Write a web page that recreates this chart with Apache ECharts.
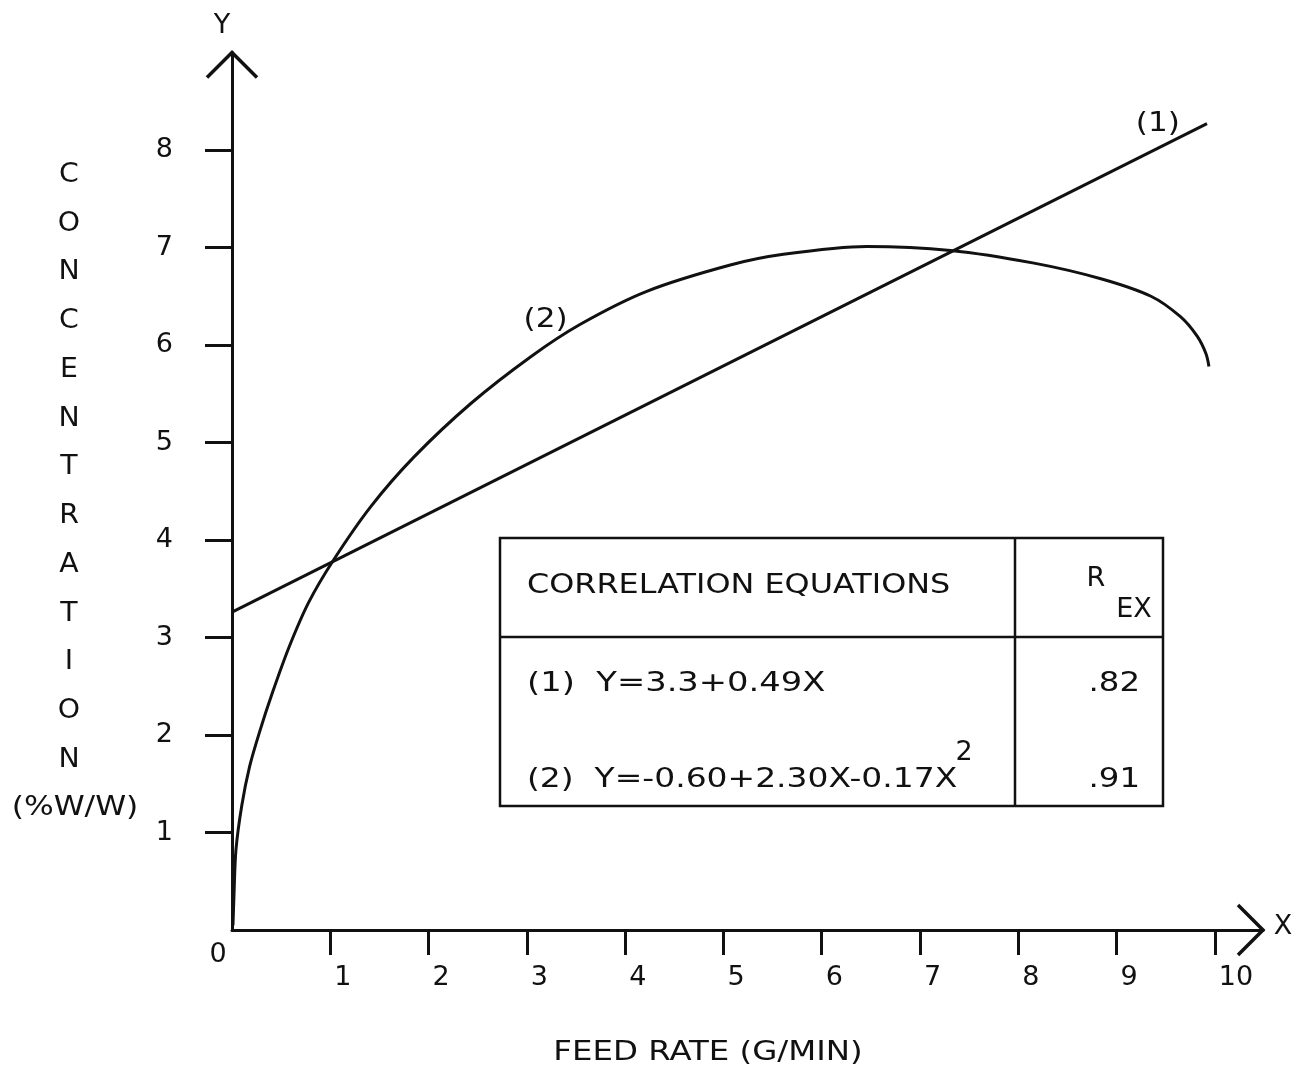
<!DOCTYPE html>
<html>
<head>
<meta charset="utf-8">
<script src="https://cdn.jsdelivr.net/npm/echarts@6/dist/echarts.min.js"></script>
<style>
  html, body { margin: 0; padding: 0; background: #ffffff; }
  #chart { width: 1293px; height: 1073px; }
</style>
</head>
<body>
<div id="chart"></div>
<script>
// Tick values on each axis
const xTickValues = [1, 2, 3, 4, 5, 6, 7, 8, 9, 10];
const yTickValues = [1, 2, 3, 4, 5, 6, 7, 8];

// Correlation (1): straight line, feed rate vs concentration
const fitLinear = [[0, 3.26], [9.92, 8.27]];

// Correlation (2): curved fit
const fitCurve = [
  [0.01, 0.05], [0.02, 0.35], [0.04, 0.82], [0.10, 1.28], [0.18, 1.68],
  [0.28, 2.03], [0.41, 2.43], [0.58, 2.90], [0.78, 3.36], [1.03, 3.79],
  [1.41, 4.34], [1.85, 4.85], [2.43, 5.40], [3.04, 5.88], [3.54, 6.21],
  [4.22, 6.55], [5.07, 6.82], [5.61, 6.93], [6.46, 7.01], [7.31, 6.97],
  [8.16, 6.84], [8.84, 6.68], [9.35, 6.50], [9.65, 6.29], [9.82, 6.09],
  [9.91, 5.91], [9.94, 5.78]
];

// Inset table contents
const tableHeading = 'CORRELATION EQUATIONS';
const rSymbol = 'R';
const rSubscript = 'EX';
const equationTexts = ['(1)  Y=3.3+0.49X', '(2)  Y=-0.60+2.30X-0.17X'];
const equationSuperscript = '2';
const rValues = ['.82', '.91'];

// Curve tags placed in data coordinates
const seriesTags = [
  { text: '(1)', at: [9.42, 8.27] },
  { text: '(2)', at: [3.19, 6.26] }
];

const INK = '#111111';
const FONT = '"DejaVu Sans", sans-serif';
const FS = 27;

// open chevron used as axis arrow head (points up before rotation)
const chevron = 'path://M0,26.23L26.24,0L52.48,26.23L50,28.71L26.24,4.94L2.48,28.71Z';

const chart = echarts.init(document.getElementById('chart'), null, { renderer: 'canvas' });

// plotter-style lettering: glyphs stretched sideways about the anchor point
function txt(text, x, y, align, vAlign, stretch, extra) {
  return {
    type: 'text', silent: true, x: x, y: y, scaleX: stretch || 1.2, z: 20,
    style: Object.assign({
      text: text, x: 0, y: 0,
      font: FS + 'px ' + FONT,
      fill: INK, align: align || 'left', verticalAlign: vAlign || 'middle'
    }, extra || {})
  };
}

const option = {
  backgroundColor: '#ffffff',
  animation: false,
  grid: { left: 232, right: 30, top: 52.5, bottom: 143, outerBoundsMode: 'none', containLabel: false },
  xAxis: {
    type: 'value', min: 0, max: 10.49,
    splitLine: { show: false },
    axisLine: {
      show: true, onZero: false,
      lineStyle: { color: INK, width: 3 },
      symbol: ['none', chevron], symbolSize: [52.48, 28.71], symbolOffset: [0, -11.88]
    },
    axisTick: { show: true, inside: false, length: 25, lineStyle: { color: INK, width: 3 }, customValues: xTickValues },
    axisLabel: {
      show: true, customValues: xTickValues, margin: 34,
      color: INK, fontFamily: FONT, fontSize: FS, align: 'left', verticalAlign: 'top',
      padding: [0, 0, 0, 4]
    }
  },
  yAxis: {
    type: 'value', min: 0, max: 9,
    splitLine: { show: false },
    axisLine: {
      show: true, onZero: false,
      lineStyle: { color: INK, width: 3 },
      symbol: ['none', chevron], symbolSize: [52.48, 28.71], symbolOffset: [0, -11.88]
    },
    axisTick: { show: true, inside: false, length: 27, lineStyle: { color: INK, width: 3 }, customValues: yTickValues },
    axisLabel: {
      show: true, customValues: yTickValues, margin: 59,
      color: INK, fontFamily: FONT, fontSize: FS, align: 'right', verticalAlign: 'middle'
    }
  },
  series: [
    {
      name: '(1)', type: 'line', data: fitLinear, showSymbol: false, symbol: 'none',
      lineStyle: { color: INK, width: 3 }, z: 3
    },
    {
      name: '(2)', type: 'line', data: fitCurve, showSymbol: false, symbol: 'none',
      smooth: 0.3,
      lineStyle: { color: INK, width: 3 }, z: 3
    }
  ]
};

chart.setOption(option);

// annotations: axis names, titles, inset table, curve tags
const g = [];
g.push(txt('Y', 222, 26, 'center', 'middle', 1.0));
g.push(txt('X', 1283, 927, 'center', 'middle', 1.0));
const o = chart.convertToPixel({ gridIndex: 0 }, [0, 0]);
g.push(txt('0', o[0] - 14, o[1] + 25, 'center', 'middle', 1.0));
g.push(txt('FEED RATE (G/MIN)', 708, 1053, 'center', 'middle', 1.2));
g.push(txt('CONCENTRATION'.split('').join('\n'), 69, 150.6, 'center', 'top', 1.05, { lineHeight: 48.75 }));
g.push(txt('(%W/W)', 75, 808, 'center', 'middle', 1.16));

// inset table frame
const tb = { x0: 500, x1: 1163, y0: 538, y1: 806, ySep: 637, xSep: 1015 };
g.push({ type: 'rect', silent: true, shape: { x: tb.x0, y: tb.y0, width: tb.x1 - tb.x0, height: tb.y1 - tb.y0 },
  style: { fill: 'none', stroke: INK, lineWidth: 2.5 }, z: 10 });
g.push({ type: 'line', silent: true, shape: { x1: tb.x0, y1: tb.ySep, x2: tb.x1, y2: tb.ySep },
  style: { stroke: INK, lineWidth: 2.5 }, z: 10 });
g.push({ type: 'line', silent: true, shape: { x1: tb.xSep, y1: tb.y0, x2: tb.xSep, y2: tb.y1 },
  style: { stroke: INK, lineWidth: 2.5 }, z: 10 });
g.push(txt(tableHeading, 527, 586, 'left', 'middle', 1.18));
g.push(txt(rSymbol, 1096, 579, 'center', 'middle', 1.0));
g.push(txt(rSubscript, 1134, 610, 'center', 'middle', 1.0));
g.push(txt(equationTexts[0], 527, 684, 'left', 'middle', 1.25));
g.push(txt(equationTexts[1], 527, 780, 'left', 'middle', 1.22));
g.push(txt(equationSuperscript, 964, 753, 'center', 'middle', 1.0));
g.push(txt(rValues[0], 1140, 684, 'right', 'middle', 1.2));
g.push(txt(rValues[1], 1140, 780, 'right', 'middle', 1.2));

seriesTags.forEach(function (t) {
  const p = chart.convertToPixel({ gridIndex: 0 }, t.at);
  g.push(txt(t.text, p[0], p[1], 'center', 'middle', 1.15));
});

chart.setOption({ graphic: { elements: g } });
</script>
</body>
</html>
